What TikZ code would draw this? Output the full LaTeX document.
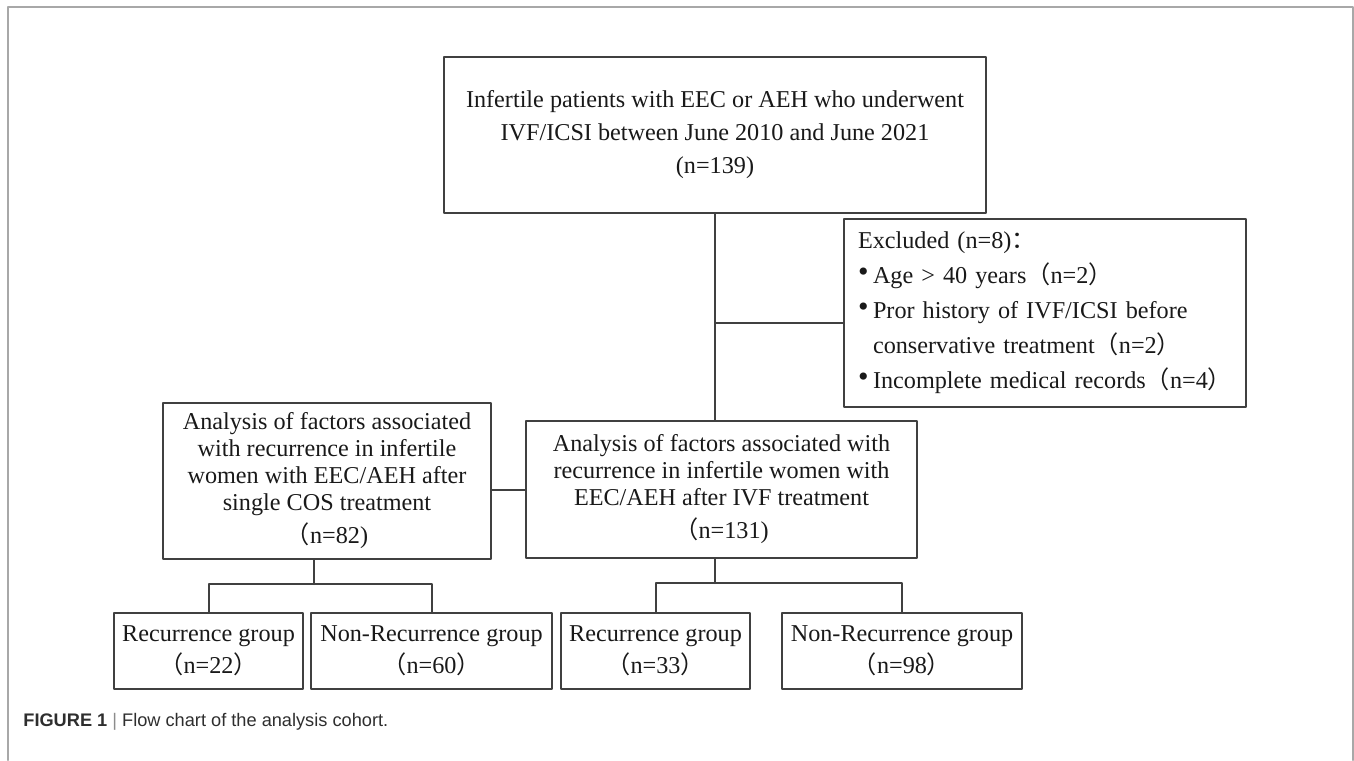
\documentclass[tikz,border=0pt]{standalone}
\usepackage{fontspec}
\setmainfont{Liberation Serif}
\setsansfont{Liberation Sans}
\newfontfamily\cjk{Noto Sans CJK SC}
\definecolor{boxline}{HTML}{404040}
\definecolor{framegray}{HTML}{A8A8A8}
\definecolor{captext}{HTML}{2E2E2E}
\newcommand{\lpar}{{\cjk （}}
\newcommand{\rpar}{{\cjk ）}}
\newcommand{\bul}{\makebox[7.5pt][l]{\raisebox{0.25ex}{\fontsize{15}{15}\selectfont\textbullet}}}

\begin{document}
\begin{tikzpicture}[line cap=round,line join=round,x=0.5pt,y=-0.5pt]
		\tikzset{flowbox/.style={draw=boxline,line width=1pt,inner sep=0pt,align=center,text=black!90,font=\fontsize{12.1}{13.5}\selectfont},
			link/.style={draw=boxline,line width=1pt}}
		\useasboundingbox (0,0) rectangle (1354,760);
		% outer frame, open at the bottom
		\draw [color=framegray,line width=1pt] (8,760) -- (8,7) -- (1353,7) -- (1353,760);
		% boxes
		\node [flowbox,minimum width=271pt,minimum height=78pt,font=\fontsize{12.1}{16.5}\selectfont] (cohort) at (715,135) {Infertile patients with EEC or AEH who underwent\\IVF/ICSI between June 2010 and June 2021\\(n=139)};
		\node [flowbox,text width=191pt,inner xsep=5pt,minimum height=94pt,align=left,font=\fontsize{12.1}{17.5}\selectfont] (excl) at (1045,313) {\hspace*{2pt}Excluded (n=8){\cjk ：}\\\hspace*{2pt}\bul Age > 40 years\lpar n=2\rpar\\\hspace*{2pt}\bul Pror history of IVF/ICSI before\\\hspace*{9.5pt}conservative treatment\lpar n=2\rpar\\\hspace*{2pt}\bul Incomplete medical records\lpar n=4\rpar};
		\node [flowbox,minimum width=164pt,minimum height=78pt] (cos) at (327,481) {Analysis of factors associated\\with recurrence in infertile\\women with EEC/AEH after\\single COS treatment\\[3pt]\lpar n=82)};
		\node [flowbox,minimum width=195.5pt,minimum height=68.5pt] (ivf) at (721.5,489.5) {Analysis of factors associated with\\recurrence in infertile women with\\EEC/AEH after IVF treatment\\[3pt]\lpar n=131)};
		\node [flowbox,minimum width=94.5pt,minimum height=38pt,font=\fontsize{12.1}{16}\selectfont] (recA) at (208.5,651) {Recurrence group\\\lpar n=22\rpar};
		\node [flowbox,minimum width=120.5pt,minimum height=38pt,font=\fontsize{12.1}{16}\selectfont] (nonA) at (431.5,651) {Non-Recurrence group\\\lpar n=60\rpar};
		\node [flowbox,minimum width=94.5pt,minimum height=38pt,font=\fontsize{12.1}{16}\selectfont] (recB) at (655.5,651) {Recurrence group\\\lpar n=33\rpar};
		\node [flowbox,minimum width=120pt,minimum height=38pt,font=\fontsize{12.1}{16}\selectfont] (nonB) at (902,651) {Non-Recurrence group\\\lpar n=98\rpar};
		% forks
		\coordinate (split) at (715,323);
		\coordinate (forkA) at (314,584);
		\coordinate (forkB) at (715,583);
		\draw [link] (cohort.south) -- (cohort.south |- ivf.north);
		\draw [link] (split) -- (split -| excl.west);
		\draw [link] (ivf.west) -- (ivf.west -| cos.east);
		\draw [link] (forkA |- cos.south) -- (forkA);
		\draw [link] (recA.north) |- (forkA) -| (nonA.north);
		\draw [link] (forkB |- ivf.south) -- (forkB);
		\draw [link] (recB.north) |- (forkB) -| (nonB.north);
		% caption
		\node [anchor=west,inner sep=0pt,text=captext,font=\sffamily\fontsize{9.1}{11}\selectfont] (caption) at (23,722) {\textbf{FIGURE 1}\ {\color{black!45}|}\ Flow chart of the analysis cohort.};
	\end{tikzpicture}
\end{document}
